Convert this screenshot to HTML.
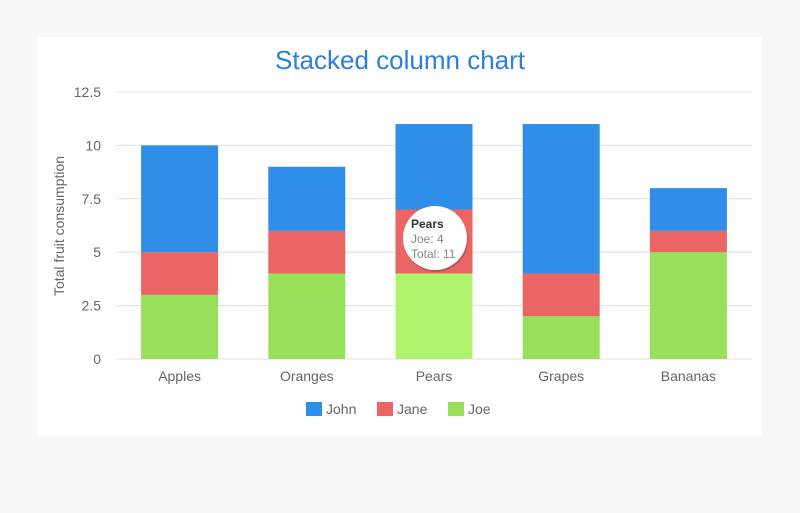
<!DOCTYPE html>
<html><head><meta charset="utf-8"><style>
body{margin:0;background:#f8f8f8;font-family:"Liberation Sans",sans-serif}
svg{display:block}
</style></head><body>
<svg id="c" width="800" height="513" xmlns="http://www.w3.org/2000/svg">
<rect x="0" y="0" width="800" height="513" fill="#f8f8f8"/>
<rect x="37" y="37" width="725" height="399" fill="#ffffff"/>
<text x="400" y="69" text-anchor="middle" font-size="26" fill="#2b7fde">Stacked column chart</text>
<text transform="translate(64,226) rotate(-90)" text-anchor="middle" font-size="14" fill="#666">Total fruit consumption</text>
<g id="grid"></g><g id="bars"></g><g id="xl"></g><g id="legend"></g><g id="tip"></g>
</svg>
<script>
const categories=["Apples","Oranges","Pears","Grapes","Bananas"];
const john=[5,3,4,7,2];
const jane=[2,2,3,2,1];
const joe=[3,4,4,2,5];
const yTicks=[0,2.5,5,7.5,10,12.5];
const seriesNames=["John","Jane","Joe"];
const NS="http://www.w3.org/2000/svg";
const x0=116,x1=752,yBase=359,yTop=92,yMax=12.5;
const y=v=>yBase-(v/yMax)*(yBase-yTop);
const bw=(x1-x0)/categories.length;
const xc=i=>x0+bw*(i+0.5);
function mk(t,a,p){const e=document.createElementNS(NS,t);for(const k in a)e.setAttribute(k,a[k]);p.appendChild(e);return e;}
const grid=document.getElementById('grid');
yTicks.forEach(t=>{
 const l=mk('line',{x1:x0,x2:x1,y1:y(t),y2:y(t),stroke:'#e0e0e0','stroke-width':1},grid);
 
 
 const tx=mk('text',{x:101,y:y(t)+5,'text-anchor':'end','font-size':14,fill:'#666'},grid);
 tx.textContent=t;
 
 
});
const bars=document.getElementById('bars');
const series=[[joe,'#98e05a','joe'],[jane,'#ec6565','jane'],[john,'#2f8fe8','john']];
const barW=77;
categories.forEach((c,i)=>{
 let acc=0;
 series.forEach(([arr,col,nm])=>{
  const v=arr[i];
  const fill=(i===2&&nm==='joe')?'#b0f46e':col;
  const r=mk('rect',{x:xc(i)-barW/2,y:y(acc+v),width:barW,height:y(acc)-y(acc+v),fill:fill},bars);
  
  
  acc+=v;
 });
 const t=mk('text',{x:xc(i),y:381,'text-anchor':'middle','font-size':14,fill:'#666'},document.getElementById('xl'));
 t.textContent=c;
 
 
});
const lg=document.getElementById('legend');
const lcol=['#2f8fe8','#ec6565','#98e05a'];const lx=[306,377,448];
seriesNames.forEach((n,k)=>{
 const g=mk('g',{},lg);
 
 
 mk('rect',{x:lx[k],y:402,width:16,height:14,fill:lcol[k]},g);
 const t=mk('text',{x:lx[k]+20,y:414,'font-size':14,fill:'#666'},g);t.textContent=n;
});
const tip=document.getElementById('tip');
const ti=2;const tcx=xc(ti)+1,tcy=238;


mk('circle',{cx:tcx+1,cy:tcy+2,r:32,fill:'rgba(0,0,0,0.18)'},tip);
mk('circle',{cx:tcx,cy:tcy,r:32,fill:'#fff'},tip);
const t1=mk('text',{x:tcx-24,y:tcy-10,'font-size':12,fill:'#333','font-weight':'bold'},tip);t1.textContent=categories[ti];
const t2=mk('text',{x:tcx-24,y:tcy+5,'font-size':12,fill:'#888'},tip);t2.textContent='Joe: '+joe[ti];
const t3=mk('text',{x:tcx-24,y:tcy+20,'font-size':12,fill:'#888'},tip);t3.textContent='Total: '+(joe[ti]+jane[ti]+john[ti]);
</script>
</body></html>
